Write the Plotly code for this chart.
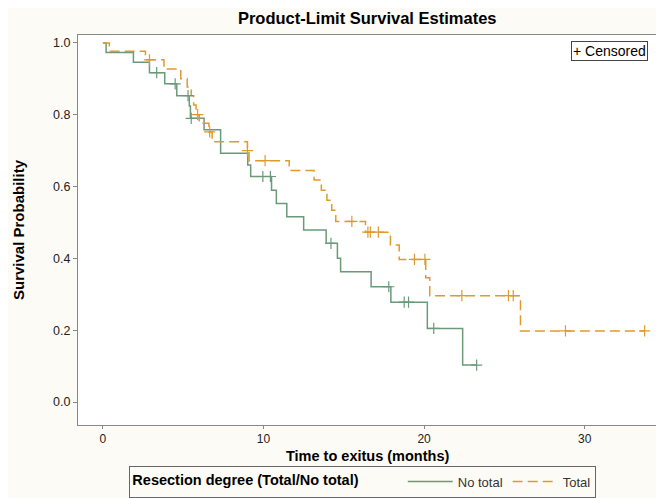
import plotly.graph_objects as go

# Kaplan-Meier steps (time in months, survival)
nototal_time = [0, 0.2, 1.9, 2.9, 3.85, 4.6, 5.38, 5.45, 6.3, 7.33, 9.02, 9.2, 10.5, 10.8,
                11.45, 12.5, 13.9, 14.6, 14.8, 16.7, 17.93, 20.2, 22.4, 23.27]
nototal_surv = [1.0, 0.973, 0.946, 0.917, 0.886, 0.853, 0.824, 0.79, 0.758, 0.693, 0.66, 0.628,
                0.59, 0.553, 0.516, 0.479, 0.442, 0.40, 0.363, 0.321, 0.278, 0.205, 0.103, 0.103]
nototal_cens_time = [3.35, 4.5, 5.3, 5.5, 9.96, 10.43, 14.2, 17.8, 18.76, 19.03, 20.6, 23.27]
nototal_cens_surv = [0.917, 0.886, 0.853, 0.79, 0.628, 0.628, 0.442, 0.321, 0.278, 0.278, 0.205, 0.103]

total_time = [0, 0.4, 2.65, 3.8, 4.85, 5.25, 5.5, 5.65, 5.8, 6.0, 6.6, 6.8, 9.0, 9.1, 11.6,
              13.15, 13.6, 13.95, 14.25, 14.5, 16.35, 17.9, 18.45, 20.1, 20.35, 26.0, 33.73]
total_surv = [1.0, 0.977, 0.953, 0.927, 0.90, 0.877, 0.853, 0.827, 0.80, 0.776, 0.752, 0.725,
              0.70, 0.672, 0.645, 0.618, 0.59, 0.562, 0.534, 0.503, 0.473, 0.437, 0.397, 0.346,
              0.296, 0.198, 0.198]
total_cens_time = [2.9, 5.9, 6.65, 9.0, 10.1, 15.5, 16.5, 16.65, 17.15, 19.4, 20.05, 22.35,
                   25.25, 25.55, 28.8, 33.73]
total_cens_surv = [0.953, 0.80, 0.752, 0.70, 0.672, 0.503, 0.473, 0.473, 0.473, 0.397, 0.397,
                   0.296, 0.296, 0.296, 0.198, 0.198]

green = '#6B9A7B'
orange = '#E09A2C'
bg = '#FDFBF5'
font = 'Arial, Liberation Sans, sans-serif'

fig = go.Figure()

fig.add_trace(go.Scatter(x=nototal_time, y=nototal_surv, mode='lines', line_shape='hv',
                         name='No total', line=dict(color=green, width=1.5)))
fig.add_trace(go.Scatter(x=total_time, y=total_surv, mode='lines', line_shape='hv',
                         name='Total', line=dict(color=orange, width=1.5, dash='10px,5px')))

# censored marks
fig.add_trace(go.Scatter(x=nototal_cens_time, y=nototal_cens_surv, mode='markers', showlegend=False,
                         marker=dict(symbol='cross-thin', size=8, line=dict(color=green, width=1.2))))
fig.add_trace(go.Scatter(x=total_cens_time, y=total_cens_surv, mode='markers', showlegend=False,
                         marker=dict(symbol='cross-thin', size=8, line=dict(color=orange, width=1.2))))

fig.add_annotation(x=0.985, y=0.985, xref='paper', yref='paper', xanchor='right', yanchor='top',
                   text='+ Censored', showarrow=False, font=dict(size=14, color='black'),
                   bordercolor='#444', borderwidth=1, borderpad=1, bgcolor='white')

# axis titles as annotations for exact placement
fig.add_annotation(x=0.5, y=-0.0795, xref='paper', yref='paper', xanchor='center', yanchor='middle',
                   text='<b>Time to exitus (months)</b>', showarrow=False,
                   font=dict(size=14.5, color='black'))
fig.add_annotation(x=-0.1036, y=0.5, xref='paper', yref='paper', xanchor='center', yanchor='middle',
                   text='<b>Survival Probability</b>', showarrow=False, textangle=-90,
                   font=dict(size=15, color='black'))

# the page body adds an 8px offset, so the figure is laid out 8px up and left
fig.update_layout(
    width=664, height=498,
    paper_bgcolor=bg, plot_bgcolor='white',
    font=dict(family=font, size=13, color='#222'),
    margin=dict(l=70, r=15, t=27, b=81, autoexpand=False),
    title=dict(text='<b>Product-Limit Survival Estimates</b>', x=0.541, xanchor='center',
               y=0.980, yanchor='middle', font=dict(size=16.5, color='black'), automargin=False),
    legend=dict(orientation='h', x=0.492, xanchor='center', y=-0.104, yanchor='top',
                title=dict(text='<b>Resection degree (Total/No total)</b>         ',
                           font=dict(size=14.5, color='black')),
                bordercolor='#666', borderwidth=1, bgcolor=bg,
                font=dict(size=13, color='#333'), itemwidth=45),
)

fig.update_xaxes(range=[-1.55, 34.5], tickvals=[0, 10, 20, 30], showgrid=False, zeroline=False,
                 showline=True, linecolor='#888', linewidth=1, mirror=True, automargin=False,
                 ticks='outside', ticklen=3, tickcolor='#888', tickfont=dict(size=12))
fig.update_yaxes(range=[-0.064, 1.022], tickvals=[0, 0.2, 0.4, 0.6, 0.8, 1.0], tickformat='.1f',
                 showgrid=False, zeroline=False, automargin=False,
                 showline=True, linecolor='#888', linewidth=1, mirror=True,
                 ticks='outside', ticklen=4, tickcolor='#888', tickfont=dict(size=12.5))

fig.write_html('out.html')
